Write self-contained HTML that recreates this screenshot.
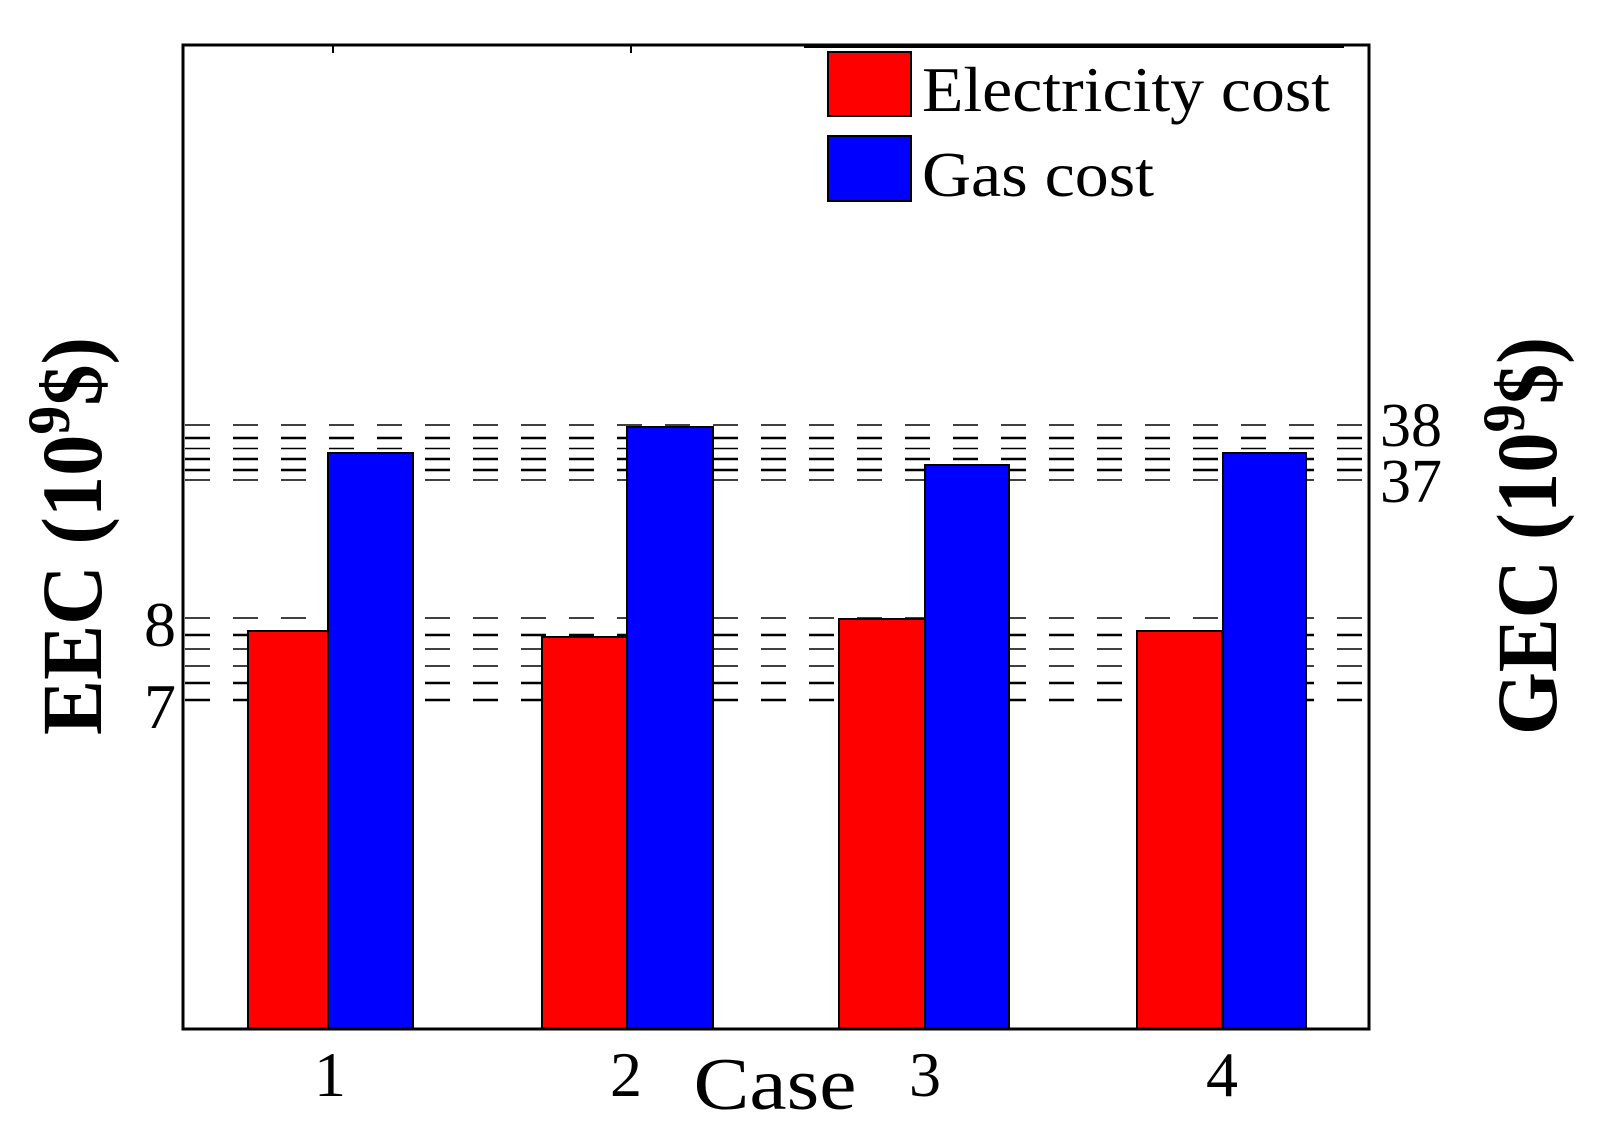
<!DOCTYPE html>
<html><head><style>body{margin:0;background:#fff}svg{display:block}text{font-family:"Liberation Serif","Times New Roman",Times,serif}</style></head>
<body>
<svg width="1601" height="1129" viewBox="0 0 1601 1129" xmlns="http://www.w3.org/2000/svg">
<rect width="1601" height="1129" fill="#fff"/>
<g stroke="#000" stroke-dasharray="25,23" fill="none">
<line x1="185" y1="425" x2="1369" y2="425" stroke-width="1.5"/>
<line x1="185" y1="438" x2="1369" y2="438" stroke-width="2.5"/>
<line x1="185" y1="448.5" x2="1369" y2="448.5" stroke-width="1.5"/>
<line x1="185" y1="459" x2="1369" y2="459" stroke-width="2.5"/>
<line x1="185" y1="470" x2="1369" y2="470" stroke-width="2.5"/>
<line x1="185" y1="480" x2="1369" y2="480" stroke-width="1.5"/>
<line x1="185" y1="618" x2="1369" y2="618" stroke-width="1.5"/>
<line x1="185" y1="635" x2="1369" y2="635" stroke-width="2.5"/>
<line x1="185" y1="649" x2="1369" y2="649" stroke-width="1.5"/>
<line x1="185" y1="666" x2="1369" y2="666" stroke-width="1.5"/>
<line x1="185" y1="683" x2="1369" y2="683" stroke-width="2.5"/>
<line x1="185" y1="700" x2="1369" y2="700" stroke-width="2.5"/>
</g>
<g stroke="#000" stroke-width="2">
<rect x="248" y="631" width="80" height="398" fill="#f00"/>
<rect x="328" y="453" width="85" height="576" fill="#00f"/>
<rect x="542" y="637" width="85" height="392" fill="#f00"/>
<rect x="627" y="427" width="86" height="602" fill="#00f"/>
<rect x="839" y="619" width="86" height="410" fill="#f00"/>
<rect x="925" y="465" width="84" height="564" fill="#00f"/>
<rect x="1137" y="631" width="85" height="398" fill="#f00"/>
<rect x="1223" y="453" width="83" height="576" fill="#00f"/>
</g>
<rect x="183" y="45" width="1186" height="984" fill="none" stroke="#000" stroke-width="3"/>
<line x1="804" y1="46" x2="1344" y2="46" stroke="#000" stroke-width="4"/>
<g stroke="#000" stroke-width="2"><line x1="333" y1="45" x2="333" y2="53"/><line x1="631" y1="45" x2="631" y2="53"/></g>
<rect x="828" y="52" width="83" height="64" fill="#f00" stroke="#000" stroke-width="2"/>
<rect x="828" y="136" width="83" height="65" fill="#00f" stroke="#000" stroke-width="2"/>
<g font-size="64" fill="#000">
<text x="922" y="111" textLength="408" lengthAdjust="spacingAndGlyphs">Electricity cost</text>
<text x="922" y="196" textLength="232" lengthAdjust="spacingAndGlyphs">Gas cost</text>
</g>
<g font-size="64" fill="#000" text-anchor="middle">
<text x="330" y="1096">1</text><text x="626" y="1096">2</text><text x="925" y="1096">3</text><text x="1222" y="1096">4</text>
<text x="160" y="646">8</text><text x="160" y="728">7</text>
</g>
<text x="1380" y="446" font-size="62" textLength="62" lengthAdjust="spacingAndGlyphs">38</text>
<text x="1380" y="502" font-size="62" textLength="62" lengthAdjust="spacingAndGlyphs">37</text>
<text x="775" y="1109" font-size="74" text-anchor="middle" textLength="163" lengthAdjust="spacingAndGlyphs">Case</text>
<text transform="translate(101,536) rotate(-90)" font-size="86" font-weight="bold" text-anchor="middle" textLength="398" lengthAdjust="spacingAndGlyphs">EEC (10<tspan dy="-32" font-size="60">9</tspan><tspan dy="32">$)</tspan></text>
<text transform="translate(1556,536) rotate(-90)" font-size="86" font-weight="bold" text-anchor="middle" textLength="398" lengthAdjust="spacingAndGlyphs">GEC (10<tspan dy="-32" font-size="60">9</tspan><tspan dy="32">$)</tspan></text>
</svg>
</body></html>
